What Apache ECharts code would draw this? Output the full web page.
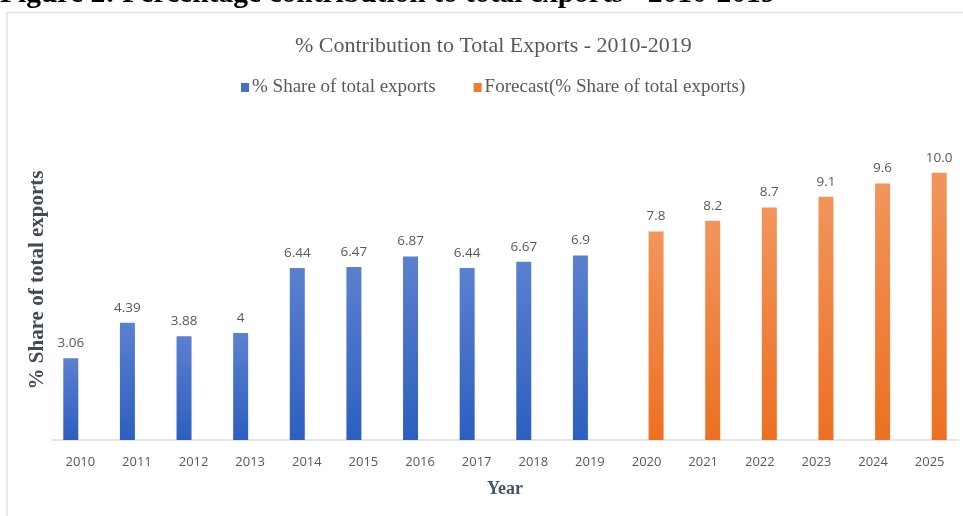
<!DOCTYPE html>
<html>
<head>
<meta charset="utf-8">
<script src="https://cdn.jsdelivr.net/npm/echarts@6/dist/echarts.min.js"></script>
<style>
  html, body { margin: 0; padding: 0; background: #ffffff; }
  #chart { width: 963px; height: 516px; }
</style>
</head>
<body>
<div id="chart"></div>
<script>
// Years shown on the category axis
const years = ['2010', '2011', '2012', '2013', '2014', '2015', '2016', '2017',
               '2018', '2019', '2020', '2021', '2022', '2023', '2024', '2025'];

// Recorded share of total exports (%), 2010-2019
const shareActual = [3.06, 4.39, 3.88, 4, 6.44, 6.47, 6.87, 6.44, 6.67, 6.9];

// Forecast share of total exports (%), 2020-2025
const shareForecast = [7.8, 8.2, 8.7, 9.1, 9.6, 10.0];

const seriesNames = ['% Share of total exports', 'Forecast(% Share of total exports)'];

// Pad each series to the full year range so every bar keeps its own slot
const actualData = years.map((y, i) => (i < shareActual.length ? shareActual[i] : null));
const forecastData = years.map((y, i) => {
  const k = i - shareActual.length;
  return k >= 0 && k < shareForecast.length ? shareForecast[k] : null;
});

const chart = echarts.init(document.getElementById('chart'), null, { renderer: 'canvas' });

function grad(top, bottom) {
  return new echarts.graphic.LinearGradient(0, 0, 0, 1, [
    { offset: 0, color: top },
    { offset: 1, color: bottom }
  ]);
}

const labelStyle = {
  show: true,
  position: 'top',
  distance: 8,
  color: '#595959',
  fontFamily: 'Open Sans',
  fontSize: 13.5
};

chart.setOption({
  backgroundColor: '#ffffff',
  animation: false,
  title: {
    text: '% Contribution to Total Exports - 2010-2019',
    left: 290,
    top: 30,
    textStyle: {
      fontFamily: 'Liberation Serif',
      fontWeight: 'normal',
      fontSize: 22,
      color: '#595959'
    }
  },
  legend: {
    top: 73,
    left: 236,
    itemWidth: 8,
    itemHeight: 9,
    itemGap: 38,
    icon: 'rect',
    textStyle: {
      fontFamily: 'Liberation Serif',
      fontSize: 19,
      color: '#595959',
      padding: [0, 0, 0, -2]
    },
    data: [
      { name: seriesNames[0], itemStyle: { color: '#4472c4' } },
      { name: seriesNames[1], itemStyle: { color: '#ed7d31' } }
    ]
  },
  grid: {
    left: 52,
    right: 5,
    top: 146,
    bottom: 76,
    containLabel: false
  },
  xAxis: {
    type: 'category',
    data: years,
    boundaryGap: true,
    name: 'Year',
    nameLocation: 'middle',
    nameGap: 40,
    nameTextStyle: {
      fontFamily: 'Liberation Serif',
      fontWeight: 'bold',
      fontSize: 18,
      color: '#44546a'
    },
    axisLine: { show: true, lineStyle: { color: '#d9dde3', width: 1.5 } },
    axisTick: { show: false },
    axisLabel: {
      margin: 16,
      color: '#595959',
      fontFamily: 'Open Sans',
      fontSize: 13
    }
  },
  yAxis: {
    type: 'value',
    min: 0,
    max: 11,
    axisLine: { show: false },
    axisTick: { show: false },
    axisLabel: { show: false },
    splitLine: { show: false }
  },
  series: [
    {
      name: seriesNames[0],
      type: 'bar',
      data: actualData,
      barWidth: 15,
      barGap: '27%',
      itemStyle: { color: grad('#5b80cf', '#2d5fbf') },
      label: Object.assign({}, labelStyle, {
        formatter: p => String(p.value)
      })
    },
    {
      name: seriesNames[1],
      type: 'bar',
      data: forecastData,
      barWidth: 15,
      barGap: '27%',
      itemStyle: { color: grad('#f2955c', '#ec7022') },
      label: Object.assign({}, labelStyle, {
        formatter: p => Number(p.value).toFixed(1)
      })
    }
  ],
  graphic: [
    {
      type: 'text',
      left: 0,
      top: -21,
      style: {
        text: 'Figure 2: Percentage contribution to total exports - 2010-2019',
        fontFamily: 'Liberation Serif',
        fontWeight: 'bold',
        fontSize: 29.5,
        fill: '#000000'
      },
      z: 10
    },
    {
      type: 'rect',
      shape: { x: 7, y: 12.5, width: 1000, height: 600 },
      style: { fill: 'none', stroke: '#dde1e6', lineWidth: 1.5 },
      silent: true,
      z: -1
    },
    {
      type: 'text',
      x: 38,
      y: 280,
      rotation: Math.PI / 2,
      style: {
        text: '% Share of total exports',
        fontFamily: 'Liberation Serif',
        fontWeight: 'bold',
        fontSize: 21,
        fill: '#404a5a',
        align: 'center',
        verticalAlign: 'middle'
      }
    }
  ]
});
</script>
</body>
</html>
